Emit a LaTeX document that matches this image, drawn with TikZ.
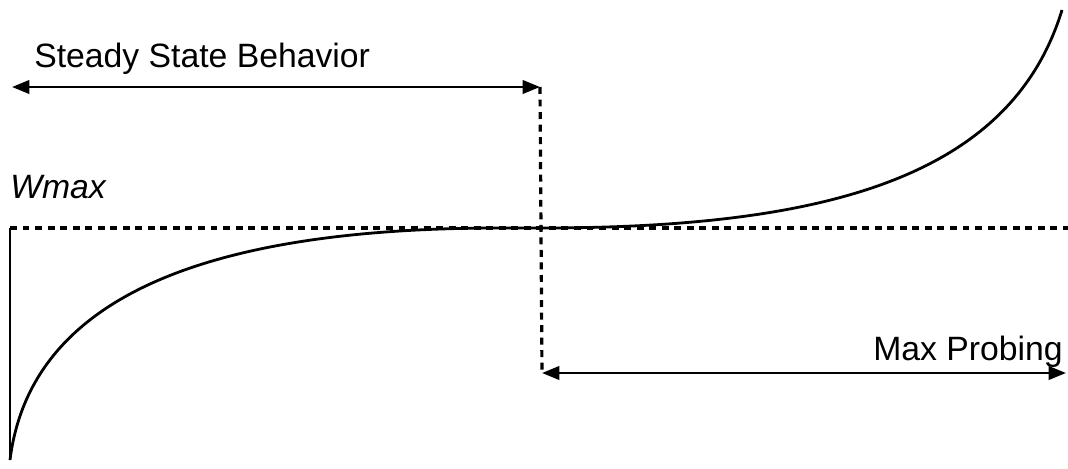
\documentclass[tikz,border=0pt]{standalone}
\usepackage{fontspec}
\setmainfont{Liberation Sans}
\usetikzlibrary{arrows.meta}
\begin{document}
\begin{tikzpicture}[x=0.75pt,y=-0.75pt,
  solidline/.style={line width=2.1pt,black},
  dashline/.style={line width=2.4pt,black,dash pattern=on 5.2pt off 4.2pt},
  dblarrow/.style={line width=2.1pt,black,{Triangle[length=13pt,width=10pt]}-{Triangle[length=13pt,width=10pt]}},
  lbl/.style={inner sep=0pt,font=\fontsize{25.3}{29}\selectfont}]
\useasboundingbox (0,0) rectangle (1068,468);
% coordinates
\coordinate (tl) at (12,87);
\coordinate (tr) at (540,87);
\coordinate (bl) at (542,373);
\coordinate (br) at (1066,373);
\coordinate (wl) at (10,228);
\coordinate (wr) at (1068,228);
\coordinate (bot) at (10,460);
\coordinate (mid) at (540,228);
\coordinate (top) at (1062,10);
% dashed lines
\draw[dashline] (wl) -- (wr);
\draw[dashline] (tr) -- (bl);
% vertical axis
\draw[solidline] (bot) -- (wl);
% curve
\draw[solidline] (bot) .. controls (30,300) and (200,228) .. (500,228) -- (mid)
  .. controls (820,228) and (1010,180) .. (top);
% arrows
\draw[dblarrow] (tl) -- (tr);
\draw[dblarrow] (bl) -- (br);
% labels
\node[lbl,anchor=base west] (steady) at (34,67) {Steady State Behavior};
\node[lbl,anchor=base west] (wmax) at (10,198) {\itshape Wmax};
\node[lbl,anchor=base east] (probe) at (1063,360) {Max Probing};
\end{tikzpicture}
\end{document}
